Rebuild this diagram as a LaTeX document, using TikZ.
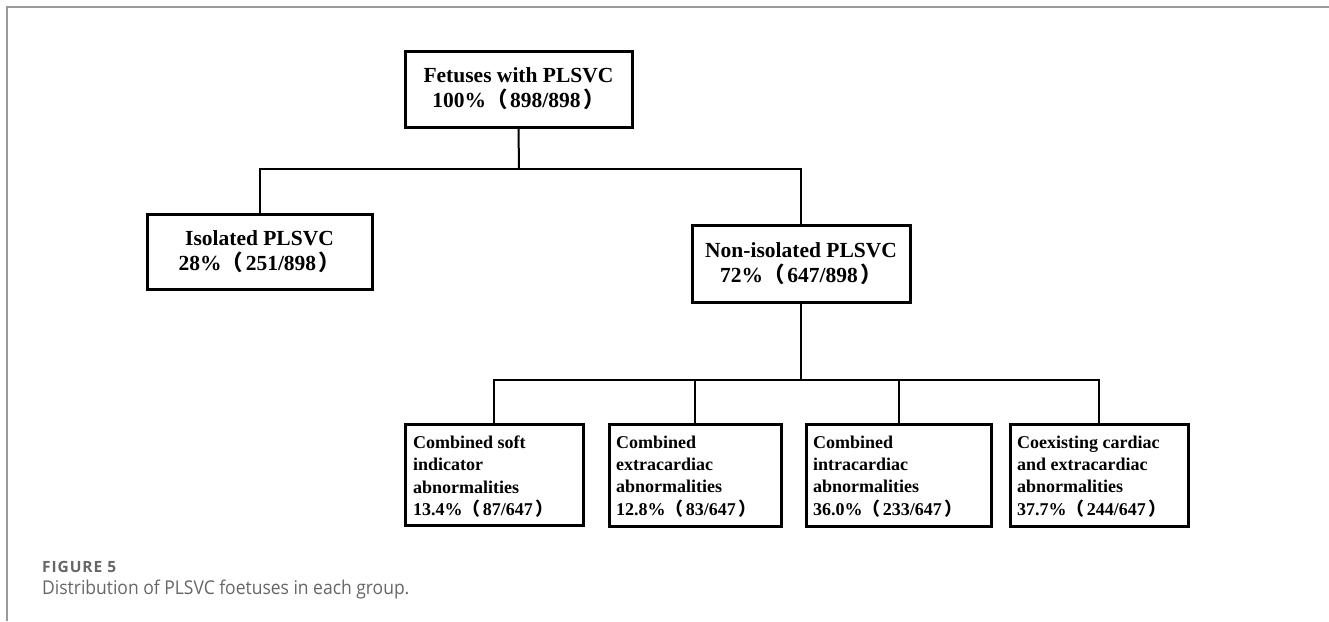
\documentclass[tikz,border=0pt]{standalone}
\usepackage{fontspec}
\setmainfont{Liberation Serif}
\newfontfamily\cjkfont{Noto Sans CJK SC}
\newfontfamily\capfont[FakeStretch=0.92]{Open Sans}
\newfontfamily\figfont[LetterSpace=6]{Open Sans}
\newcommand\lpar{{\cjkfont （}\kern0.12em}
\newcommand\rpar{\kern0.12em{\cjkfont ）}}
\definecolor{framegray}{HTML}{9A9A9A}
\definecolor{capgray}{HTML}{666666}
\begin{document}
\begin{tikzpicture}[x=1pt,y=-1pt,
  bigbox/.style={draw, line width=3pt, rectangle, align=center, inner sep=0pt,
    font=\fontsize{21.5pt}{25pt}\selectfont\bfseries},
  smallbox/.style={draw, line width=3pt, rectangle, inner sep=0pt},
  smalltext/.style={align=left, inner sep=0pt, anchor=north west,
    font=\fontsize{18pt}{22.4pt}\selectfont\bfseries},
  link/.style={line width=2pt}]
\useasboundingbox (0,0) rectangle (1329,621);
% frame
\draw[framegray, line width=1.5pt] (7,621) -- (7,7) -- (1329,7);
% upper boxes
\node[bigbox, minimum width=227pt, minimum height=76pt] (top) at (518.5,89)
  {Fetuses with PLSVC\\100\%\lpar 898/898\rpar};
\node[bigbox, minimum width=225pt, minimum height=75pt] (left) at (259.5,251.5)
  {Isolated PLSVC\\28\%\lpar 251/898\rpar};
\node[bigbox, minimum width=218pt, minimum height=77pt] (right) at (801,263.5)
  {Non-isolated PLSVC\\72\%\lpar 647/898\rpar};
% lower boxes
\node[smallbox, minimum width=178pt, minimum height=101pt] (b1) at (494,475) {};
\node[smallbox, minimum width=172pt, minimum height=102pt] (b2) at (695,475) {};
\node[smallbox, minimum width=185pt, minimum height=102pt] (b3) at (898.5,475) {};
\node[smallbox, minimum width=178pt, minimum height=102pt] (b4) at (1099,475) {};
\node[smalltext] (t1) at (413,435.5)
  {Combined soft\\indicator\\abnormalities\\13.4\%\lpar 87/647\rpar};
\node[smalltext] (t2) at (616,435.5)
  {Combined\\extracardiac\\abnormalities\\12.8\%\lpar 83/647\rpar};
\node[smalltext] (t3) at (813,435.5)
  {Combined\\intracardiac\\abnormalities\\36.0\%\lpar 233/647\rpar};
\node[smalltext] (t4) at (1017,435.5)
  {Coexisting cardiac\\and extracardiac\\abnormalities\\37.7\%\lpar 244/647\rpar};
% connectors
\coordinate (j1) at (519,169);
\draw[link] (top.south) -- (j1);
\draw[link] (j1) -| (left.north);
\draw[link] (j1) -| (right.north);
\path (right.south) ++(0,76) coordinate (j2);
\draw[link] (right.south) -- (j2);
\draw[link] (j2) -| (b1.north);
\draw[link] (j2) -| (b2.north);
\draw[link] (j2) -| (b3.north);
\draw[link] (j2) -| (b4.north);
% caption
\node[anchor=base west, inner sep=0pt, text=capgray, font=\figfont\fontsize{15.5pt}{18pt}\selectfont\bfseries] (fig) at (42,572) {FIGURE 5};
\node[anchor=base west, inner sep=0pt, text=capgray, font=\capfont\fontsize{19pt}{22pt}\selectfont] (cap) at (42,594) {Distribution of PLSVC foetuses in each group.};
\end{tikzpicture}
\end{document}
